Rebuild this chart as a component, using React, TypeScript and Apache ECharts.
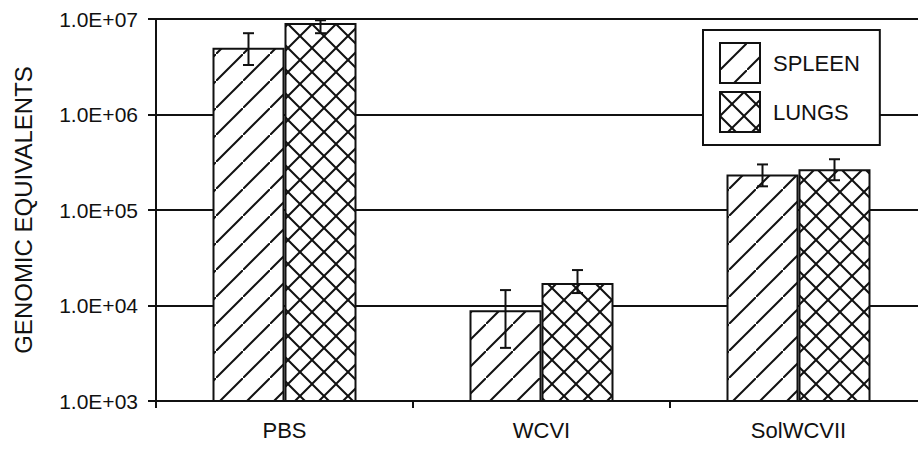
import React, { useEffect, useRef } from 'react';
import * as echarts from 'echarts';

const categories = ['PBS', 'WCVI', 'SolWCVII'];
const seriesNames = ['SPLEEN', 'LUNGS'];
const spleenValues = [5.0e6, 8.9e3, 2.35e5];
const spleenLow = [3.3e6, 3.6e3, 1.77e5];
const spleenHigh = [7.1e6, 1.45e4, 3.0e5];
const lungsValues = [9.1e6, 1.72e4, 2.67e5];
const lungsLow = [7.1e6, 1.35e4, 2.05e5];
const lungsHigh = [9.7e6, 2.35e4, 3.4e5];
const yTickValues = [1e3, 1e4, 1e5, 1e6, 1e7];
const yTickLabels = ['1.0E+03', '1.0E+04', '1.0E+05', '1.0E+06', '1.0E+07'];
const yAxisTitle = 'GENOMIC EQUIVALENTS';

const FONT = "'Liberation Sans', Arial, sans-serif";
const INK = '#111';
const BAR_W = 72;

function makeHatch(size: number, cross: boolean) {
  const c = document.createElement('canvas');
  c.width = size;
  c.height = size;
  const ctx = c.getContext('2d') as CanvasRenderingContext2D;
  ctx.fillStyle = '#fff';
  ctx.fillRect(0, 0, size, size);
  ctx.strokeStyle = INK;
  ctx.lineWidth = 2;
  const seg = (x1: number, y1: number, x2: number, y2: number) => {
    ctx.beginPath();
    ctx.moveTo(x1, y1);
    ctx.lineTo(x2, y2);
    ctx.stroke();
  };
  seg(-2, size + 2, size + 2, -2);
  if (cross) seg(-2, -2, size + 2, size + 2);
  return { image: c, repeat: 'repeat', imageWidth: size, imageHeight: size } as any;
}

function errorSeries(name: string, low: number[], high: number[], offset: number) {
  return {
    type: 'custom',
    name,
    z: 10,
    silent: true,
    data: categories.map((_, i) => [i, low[i], high[i]]),
    renderItem: (_params: any, api: any) => {
      const lo = api.coord([api.value(0), api.value(1)]);
      const hi = api.coord([api.value(0), api.value(2)]);
      const x = lo[0] + offset;
      const w = 5.5;
      const st = { stroke: INK, lineWidth: 2 };
      return {
        type: 'group',
        children: [
          { type: 'line', shape: { x1: x, y1: hi[1], x2: x, y2: lo[1] }, style: st },
          { type: 'line', shape: { x1: x - w, y1: hi[1], x2: x + w, y2: hi[1] }, style: st },
          { type: 'line', shape: { x1: x - w, y1: lo[1], x2: x + w, y2: lo[1] }, style: st },
        ],
      };
    },
  };
}

export default function App() {
  const ref = useRef<HTMLDivElement>(null);
  useEffect(() => {
    if (!ref.current) return;
    const chart = echarts.init(ref.current, undefined, { renderer: 'svg' });
    const spleenPattern = makeHatch(27, false);
    const lungsPattern = makeHatch(24, true);
    const option: any = {
      animation: false,
      backgroundColor: '#fff',
      grid: { left: 156, right: -9, top: 19, bottom: 50, outerBoundsMode: 'none' },
      legend: {
        data: seriesNames,
        orient: 'vertical',
        left: 703,
        top: 30,
        padding: [12, 20, 12, 16],
        itemGap: 7,
        itemWidth: 40,
        itemHeight: 40,
        icon: 'rect',
        borderColor: INK,
        borderWidth: 2,
        backgroundColor: '#fff',
        borderRadius: 0,
        itemStyle: { borderColor: INK, borderWidth: 2 },
        textStyle: { fontFamily: FONT, fontSize: 22, color: INK, padding: [0, 0, 0, 8] },
      },
      xAxis: {
        type: 'category',
        data: categories,
        boundaryGap: true,
        axisLine: { show: true, lineStyle: { color: INK, width: 2 } },
        axisTick: { show: true, length: 7, lineStyle: { color: INK, width: 2 } },
        axisLabel: { fontFamily: FONT, fontSize: 22, color: INK, margin: 18 },
        splitLine: { show: false },
      },
      yAxis: {
        type: 'log',
        logBase: 10,
        min: 1e3,
        max: 1e7,
        name: yAxisTitle,
        nameLocation: 'middle',
        nameGap: 121,
        nameTextStyle: { fontFamily: FONT, fontSize: 24, color: INK },
        axisLine: { show: true, lineStyle: { color: INK, width: 2 } },
        axisTick: { show: true, length: 8, lineStyle: { color: INK, width: 2 } },
        axisLabel: {
          fontFamily: FONT,
          fontSize: 21,
          color: INK,
          margin: 18,
          formatter: (v: number) => {
            const idx = yTickValues.findIndex((t) => Math.abs(Math.log10(t) - Math.log10(v)) < 1e-6);
            return idx >= 0 ? yTickLabels[idx] : '';
          },
        },
        splitLine: { show: true, lineStyle: { color: INK, width: 2 } },
        minorTick: { show: false },
      },
      series: [
        {
          type: 'bar',
          name: seriesNames[0],
          data: spleenValues,
          barWidth: BAR_W,
          barGap: '0%',
          itemStyle: { color: spleenPattern, borderColor: INK, borderWidth: 2 },
        },
        {
          type: 'bar',
          name: seriesNames[1],
          data: lungsValues,
          barWidth: BAR_W,
          barGap: '0%',
          itemStyle: { color: lungsPattern, borderColor: INK, borderWidth: 2 },
        },
        errorSeries('SPLEEN error', spleenLow, spleenHigh, -BAR_W / 2),
        errorSeries('LUNGS error', lungsLow, lungsHigh, BAR_W / 2),
      ],
    };
    chart.setOption(option);
    return () => chart.dispose();
  }, []);
  return (
    <div
      ref={ref}
      style={{ position: 'fixed', left: 0, top: 0, width: 918, height: 451, background: '#fff' }}
    />
  );
}
